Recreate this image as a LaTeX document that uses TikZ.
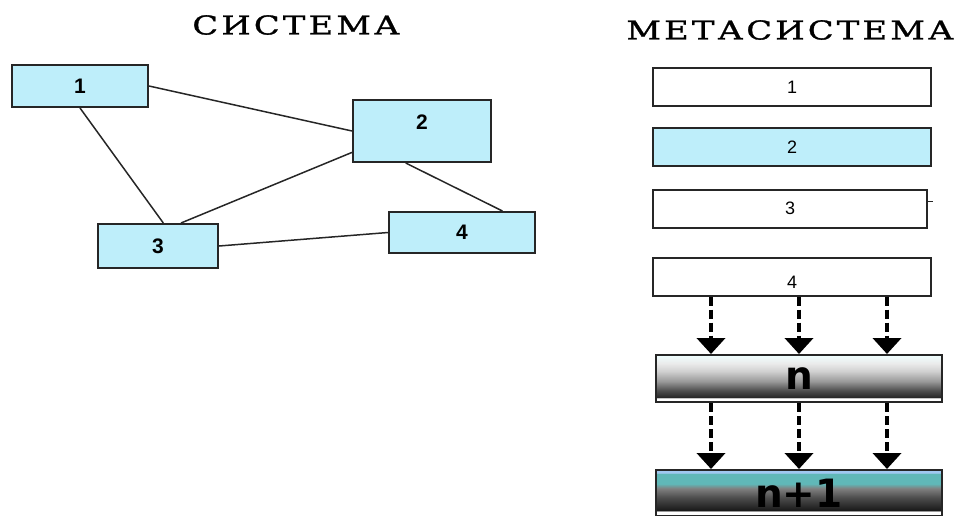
\documentclass[tikz,border=0pt]{standalone}
\usepackage{fontspec}
\setmainfont{Liberation Sans}
\newfontfamily\titlefont[FakeStretch=1.3,LetterSpace=12,FakeBold=1.2]{DejaVu Serif}
\newfontfamily\levelfont{DejaVu Sans}
\usetikzlibrary{arrows.meta}

\definecolor{boxblue}{RGB}{190,238,250}
\definecolor{levelteal}{RGB}{96,184,184}
\definecolor{levelsky}{RGB}{160,200,240}

% level shadings (bottom to top)
\pgfdeclareverticalshading{levelone}{100bp}{color(0bp)=(white); color(29bp)=(white);
  color(30bp)=(black!85); color(37bp)=(black!70); color(47bp)=(black!40);
  color(58bp)=(black!18); color(66bp)=(black!8); color(75bp)=(cyan!6!white); color(100bp)=(cyan!6!white)}
\pgfdeclareverticalshading{leveltwo}{100bp}{color(0bp)=(white); color(30bp)=(white);
  color(31bp)=(black!90); color(45bp)=(black!70); color(55bp)=(black!50);
  color(60bp)=(levelteal); color(71bp)=(levelteal); color(72bp)=(levelsky); color(100bp)=(levelsky)}

\begin{document}
\begin{tikzpicture}[x=1pt, y=-1pt,
    sbox/.style={draw=black!85, line width=2pt, fill=boxblue, inner sep=0pt,
      font=\fontsize{21}{21}\selectfont\bfseries},
    mbox/.style={draw=black!85, line width=2pt, inner sep=0pt, minimum height=38pt,
      font=\fontsize{18}{18}\selectfont},
    lbox/.style={draw=black!85, line width=2pt, inner sep=0pt, minimum width=286pt,
      font=\fontsize{39}{39}\levelfont\bfseries},
    link/.style={black!85, line width=1.5pt},
    flow/.style={black, line width=4.5pt, dash pattern=on 9pt off 4pt,
      -{Triangle[width=28pt,length=16pt]}}]
  \useasboundingbox (0,0) rectangle (960,515);

  % titles
  \node[font=\fontsize{26}{26}\titlefont] (sys) at (296,25) {СИСТЕМА};
  \node[font=\fontsize{26}{26}\titlefont] (meta) at (790,30) {МЕТАСИСТЕМА};

  % system elements
  \node[sbox, minimum width=136pt, minimum height=42pt] (b1) at (80,86) {1};
  \node[sbox, minimum width=138pt, minimum height=62pt, text depth=18pt] (b2) at (422,131) {2};
  \node[sbox, minimum width=120pt, minimum height=44pt] (b3) at (158,246) {3};
  \node[sbox, minimum width=146pt, minimum height=41pt] (b4) at (462,232.5) {4};

  % links between elements
  \draw[link] (b1.east) -- (b2.west);
  \draw[link] (b1.south) -- (b3.77);
  \draw[link] (b2.197) -- (b3.45);
  \draw[link] (b2.243) -- (b4.28);
  \draw[link] (b3.east) -- (b4.west);

  % metasystem elements
  \foreach \i/\x/\y/\w/\c in {1/792/87/278/white, 2/792/147/278/boxblue, 3/790/208.5/274/white} {
    \node[mbox, fill=\c, minimum width=\w] (r\i) at (\x,\y) {\i};
  }
  \node[mbox, fill=white, minimum width=278pt, text height=24pt] (r4) at (792,276.5) {4};
  \draw[black!85, line width=1pt] ([yshift=7pt]r3.east) -- ++(5,0);

  % levels
  \node[lbox, shading=levelone, minimum height=47pt] (n) at (799,378.5) {n};
  \node[lbox, shading=leveltwo, minimum height=46pt] (n1) at (799,493) {n+1};

  % transitions between levels
  \foreach \x in {711,799,887} {
    \draw[flow] (\x,0 |- r4.south) -- (\x,0 |- n.north);
    \draw[flow] (\x,0 |- n.south) -- (\x,0 |- n1.north);
  }
\end{tikzpicture}
\end{document}
